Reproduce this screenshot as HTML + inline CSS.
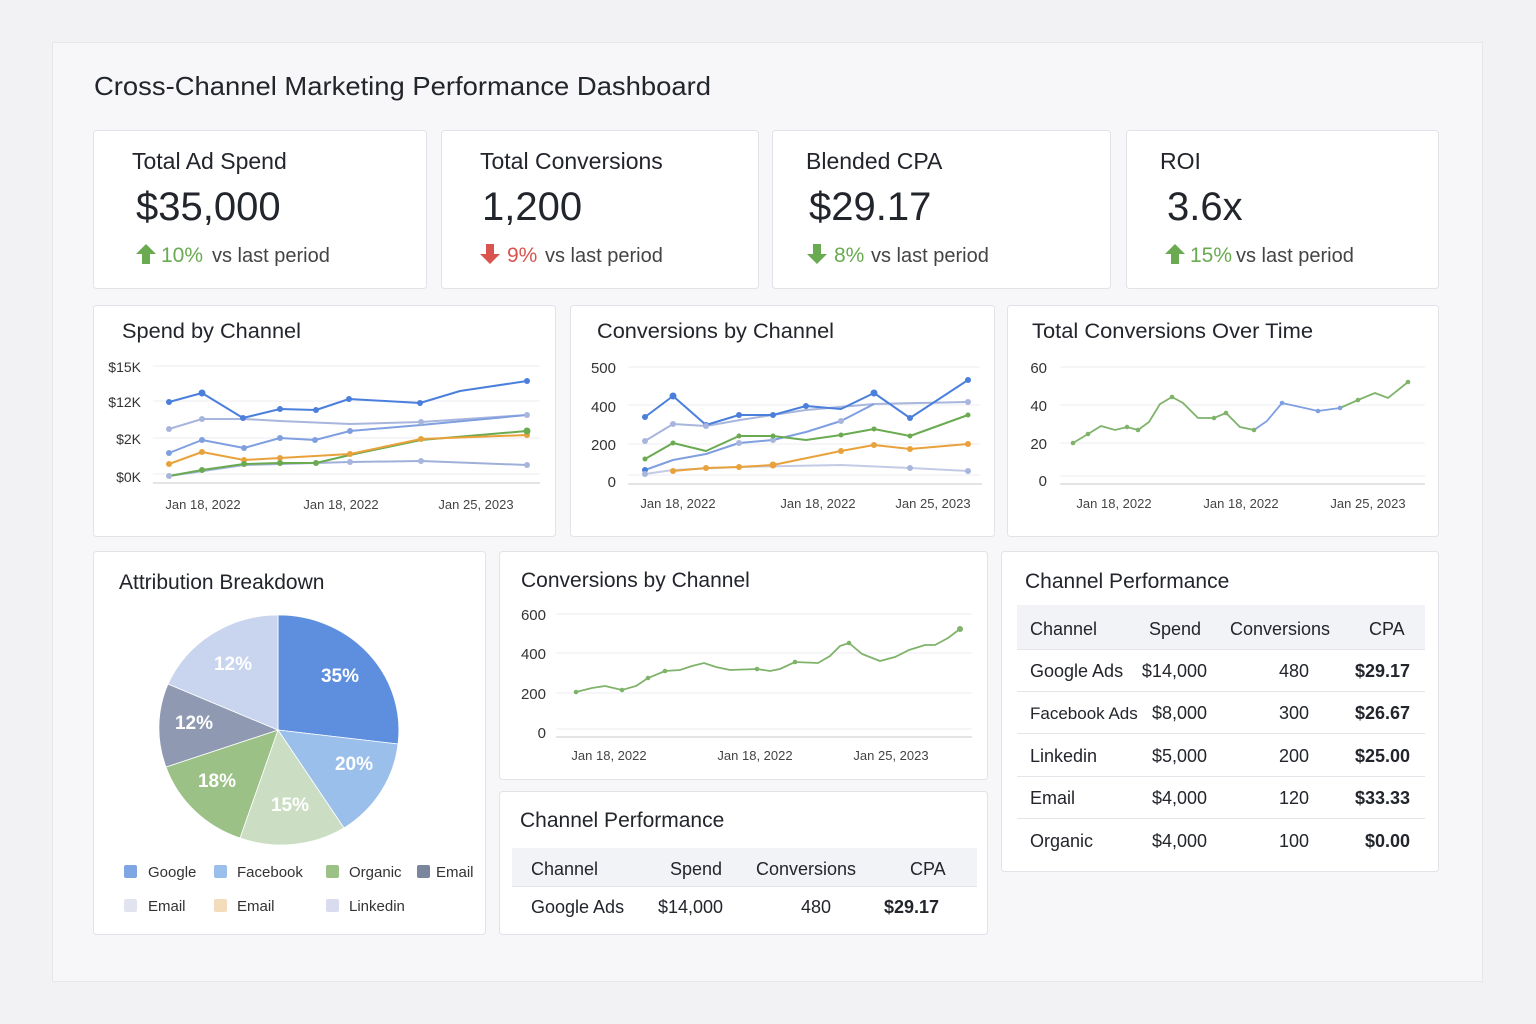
<!DOCTYPE html>
<html><head><meta charset="utf-8"><style>
html,body{margin:0;padding:0;background:#f2f2f5;}
svg{display:block;font-family:"Liberation Sans","DejaVu Sans",sans-serif;}
</style></head><body>
<svg width="1536" height="1024" viewBox="0 0 1536 1024" xmlns="http://www.w3.org/2000/svg">
<rect x="0" y="0" width="1536" height="1024" fill="#f2f2f5"/>
<rect x="52.5" y="42.5" width="1430" height="939" fill="#f7f7f9" stroke="#e6e6ea"/>
<text x="94" y="95" font-size="26" fill="#22252b" textLength="617" lengthAdjust="spacingAndGlyphs">Cross-Channel Marketing Performance Dashboard</text>
<g fill="#ffffff" stroke="#e2e3e8">
<rect x="93.5" y="130.5" width="333" height="158" rx="3"/>
<rect x="441.5" y="130.5" width="317" height="158" rx="3"/>
<rect x="772.5" y="130.5" width="338" height="158" rx="3"/>
<rect x="1126.5" y="130.5" width="312" height="158" rx="3"/>
<rect x="93.5" y="305.5" width="462" height="231" rx="3"/>
<rect x="570.5" y="305.5" width="424" height="231" rx="3"/>
<rect x="1007.5" y="305.5" width="431" height="231" rx="3"/>
<rect x="93.5" y="551.5" width="392" height="383" rx="3"/>
<rect x="499.5" y="551.5" width="488" height="228" rx="3"/>
<rect x="499.5" y="791.5" width="488" height="143" rx="3"/>
<rect x="1001.5" y="551.5" width="437" height="320" rx="3"/>
</g>
<!-- KPI -->
<g fill="#22252b">
<text x="132" y="169" font-size="23">Total Ad Spend</text>
<text x="136" y="220" font-size="40">$35,000</text>
<text x="480" y="169" font-size="23">Total Conversions</text>
<text x="482" y="220" font-size="40">1,200</text>
<text x="806" y="169" font-size="23">Blended CPA</text>
<text x="809" y="220" font-size="40">$29.17</text>
<text x="1160" y="169" font-size="23">ROI</text>
<text x="1167" y="220" font-size="40">3.6x</text>
</g>
<g font-size="21">
<path d="M146 244 l10 10 h-6 v10 h-8 v-10 h-6 z" fill="#6aaa50"/>
<text x="161" y="262" fill="#6aaa50">10%</text><text x="212" y="262" fill="#444" font-size="20">vs last period</text>
<path d="M490 264 l10 -10 h-6 v-10 h-8 v10 h-6 z" fill="#d9534f"/>
<text x="507" y="262" fill="#d9534f">9%</text><text x="545" y="262" fill="#444" font-size="20">vs last period</text>
<path d="M817 264 l10 -10 h-6 v-10 h-8 v10 h-6 z" fill="#6aaa50"/>
<text x="834" y="262" fill="#6aaa50">8%</text><text x="871" y="262" fill="#444" font-size="20">vs last period</text>
<path d="M1175 244 l10 10 h-6 v10 h-8 v-10 h-6 z" fill="#6aaa50"/>
<text x="1190" y="262" fill="#6aaa50">15%</text><text x="1236" y="262" fill="#444" font-size="20">vs last period</text>
</g>
<!-- chart titles -->
<g font-size="21" fill="#22252b">
<text x="122" y="338" textLength="179" lengthAdjust="spacingAndGlyphs">Spend by Channel</text>
<text x="597" y="338" textLength="237" lengthAdjust="spacingAndGlyphs">Conversions by Channel</text>
<text x="1032" y="338" textLength="281" lengthAdjust="spacingAndGlyphs">Total Conversions Over Time</text>
<text x="119" y="589">Attribution Breakdown</text>
<text x="521" y="587">Conversions by Channel</text>
<text x="520" y="827">Channel Performance</text>
<text x="1025" y="588">Channel Performance</text>
</g>
<!-- Spend chart -->
<g stroke="#ececf0"><line x1="153" y1="366" x2="540" y2="366"/><line x1="153" y1="401" x2="540" y2="401"/><line x1="153" y1="438" x2="540" y2="438"/><line x1="153" y1="474" x2="540" y2="474"/></g>
<line x1="153" y1="483" x2="540" y2="483" stroke="#c9c9cf"/>
<g font-size="14" fill="#333" text-anchor="end"><text x="141" y="372">$15K</text><text x="141" y="407">$12K</text><text x="141" y="444">$2K</text><text x="141" y="482">$0K</text></g>
<g font-size="13" fill="#444" text-anchor="middle"><text x="203" y="509">Jan 18, 2022</text><text x="341" y="509">Jan 18, 2022</text><text x="476" y="509">Jan 25, 2023</text></g>
<g fill="none" stroke-width="2" stroke-linejoin="round">
<polyline stroke="#a8b6dd" points="169,429 202,419 244,419 280,421 350,424 421,422 527,415"/>
<polyline stroke="#7f9fe0" points="169,453 202,440 244,448 280,438 315,440 350,431 421,425 527,415"/>
<polyline stroke="#9fb0d8" points="169,476 244,465 350,462 421,461 527,465"/>
<polyline stroke="#6aaa50" points="169,476 202,470 244,464 280,463 316,463 350,455 421,440 527,431"/>
<polyline stroke="#e9a23b" points="169,464 202,452 244,460 280,458 350,454 421,439 527,435"/>
<polyline stroke="#4a7fdc" points="169,402 202,393 243,418 280,409 316,410 349,399 420,403 460,391 527,381"/>
</g>
<g fill="#4a7fdc"><circle cx="169" cy="402" r="3"/><circle cx="202" cy="393" r="3.5"/><circle cx="243" cy="418" r="3"/><circle cx="280" cy="409" r="3"/><circle cx="316" cy="410" r="3"/><circle cx="349" cy="399" r="3"/><circle cx="420" cy="403" r="3"/><circle cx="527" cy="381" r="3"/></g>
<g fill="#a8b6dd"><circle cx="169" cy="429" r="3"/><circle cx="202" cy="419" r="3"/><circle cx="421" cy="422" r="3"/><circle cx="527" cy="415" r="3"/><circle cx="169" cy="476" r="3"/><circle cx="350" cy="462" r="3"/><circle cx="421" cy="461" r="3"/><circle cx="527" cy="465" r="3"/></g>
<g fill="#7f9fe0"><circle cx="169" cy="453" r="3"/><circle cx="202" cy="440" r="3"/><circle cx="244" cy="448" r="3"/><circle cx="280" cy="438" r="3"/><circle cx="315" cy="440" r="3"/><circle cx="350" cy="431" r="3"/></g>
<g fill="#e9a23b"><circle cx="169" cy="464" r="3"/><circle cx="202" cy="452" r="3"/><circle cx="244" cy="460" r="3"/><circle cx="280" cy="458" r="3"/><circle cx="350" cy="454" r="3"/><circle cx="421" cy="439" r="3"/><circle cx="527" cy="435" r="3"/></g>
<g fill="#6aaa50"><circle cx="202" cy="470" r="3"/><circle cx="244" cy="464" r="3"/><circle cx="280" cy="463" r="3"/><circle cx="316" cy="463" r="3"/><circle cx="527" cy="431" r="3.5"/></g>
<!-- Conversions by channel chart -->
<g stroke="#ececf0"><line x1="628" y1="367" x2="980" y2="367"/><line x1="628" y1="405" x2="980" y2="405"/><line x1="628" y1="444" x2="980" y2="444"/><line x1="628" y1="475" x2="980" y2="475"/></g>
<line x1="628" y1="484" x2="982" y2="484" stroke="#c9c9cf"/>
<g font-size="15" fill="#333" text-anchor="end"><text x="616" y="373">500</text><text x="616" y="412">400</text><text x="616" y="450">200</text><text x="616" y="487">0</text></g>
<g font-size="13" fill="#444" text-anchor="middle"><text x="678" y="508">Jan 18, 2022</text><text x="818" y="508">Jan 18, 2022</text><text x="933" y="508">Jan 25, 2023</text></g>
<g fill="none" stroke-width="2" stroke-linejoin="round">
<polyline stroke="#a8b6dd" points="645,441 673,424 706,426 740,420 806,410 874,404 968,402"/>
<polyline stroke="#c3cbe6" points="645,474 673,470 739,467 841,465 910,468 968,471"/>
<polyline stroke="#7f9fe0" points="645,470 673,460 706,454 739,443 773,440 806,432 841,421 874,404"/>
<polyline stroke="#6aaa50" points="645,459 673,443 706,451 739,436 773,436 806,440 841,435 874,429 910,436 968,415"/>
<polyline stroke="#e9a23b" points="673,471 706,468 739,467 773,465 841,451 874,445 910,449 968,444"/>
<polyline stroke="#4a7fdc" points="645,417 673,396 706,425 739,415 773,415 806,406 841,409 874,393 910,418 968,380"/>
</g>
<g fill="#4a7fdc"><circle cx="645" cy="417" r="3"/><circle cx="673" cy="396" r="3.5"/><circle cx="706" cy="425" r="3"/><circle cx="739" cy="415" r="3"/><circle cx="773" cy="415" r="3"/><circle cx="806" cy="406" r="3"/><circle cx="874" cy="393" r="3.5"/><circle cx="910" cy="418" r="3"/><circle cx="968" cy="380" r="3"/><circle cx="645" cy="470" r="3"/></g>
<g fill="#a8b6dd"><circle cx="645" cy="441" r="3"/><circle cx="673" cy="424" r="3"/><circle cx="706" cy="426" r="3"/><circle cx="739" cy="443" r="3"/><circle cx="773" cy="440" r="3"/><circle cx="841" cy="421" r="3"/><circle cx="968" cy="402" r="3"/><circle cx="645" cy="474" r="3"/><circle cx="910" cy="468" r="3"/><circle cx="968" cy="471" r="3"/></g>
<g fill="#6aaa50"><circle cx="645" cy="459" r="2.5"/><circle cx="673" cy="443" r="2.5"/><circle cx="739" cy="436" r="2.5"/><circle cx="773" cy="436" r="2.5"/><circle cx="841" cy="435" r="2.5"/><circle cx="874" cy="429" r="2.5"/><circle cx="910" cy="436" r="2.5"/><circle cx="968" cy="415" r="2.5"/></g>
<g fill="#e9a23b"><circle cx="673" cy="471" r="3"/><circle cx="706" cy="468" r="3"/><circle cx="739" cy="467" r="3"/><circle cx="773" cy="465" r="3.5"/><circle cx="841" cy="451" r="3"/><circle cx="874" cy="445" r="3"/><circle cx="910" cy="449" r="3"/><circle cx="968" cy="444" r="3"/></g>
<!-- Total conversions over time -->
<g stroke="#ececf0"><line x1="1060" y1="367" x2="1425" y2="367"/><line x1="1060" y1="405" x2="1425" y2="405"/><line x1="1060" y1="443" x2="1425" y2="443"/><line x1="1060" y1="476" x2="1425" y2="476"/></g>
<line x1="1060" y1="484" x2="1425" y2="484" stroke="#c9c9cf"/>
<g font-size="15" fill="#333" text-anchor="end"><text x="1047" y="373">60</text><text x="1047" y="411">40</text><text x="1047" y="449">20</text><text x="1047" y="486">0</text></g>
<g font-size="13" fill="#444" text-anchor="middle"><text x="1114" y="508">Jan 18, 2022</text><text x="1241" y="508">Jan 18, 2022</text><text x="1368" y="508">Jan 25, 2023</text></g>
<polyline fill="none" stroke="#7fb36a" stroke-width="1.8" points="1073,443 1088,434 1101,426 1115,430 1127,427 1138,430 1149,422 1160,404 1172,397 1183,403 1198,418 1214,418 1226,413 1240,427 1254,430"/>
<polyline fill="none" stroke="#7f9fe0" stroke-width="1.8" points="1254,430 1267,421 1282,403 1318,411 1340,408"/>
<polyline fill="none" stroke="#7fb36a" stroke-width="1.8" points="1340,408 1358,400 1375,393 1388,398 1408,382"/>
<g fill="#7fb36a"><circle cx="1073" cy="443" r="2.3"/><circle cx="1088" cy="434" r="2.3"/><circle cx="1127" cy="427" r="2.3"/><circle cx="1138" cy="430" r="2.3"/><circle cx="1172" cy="397" r="2.3"/><circle cx="1214" cy="418" r="2.3"/><circle cx="1226" cy="413" r="2.3"/><circle cx="1254" cy="430" r="2.3"/><circle cx="1358" cy="400" r="2.3"/><circle cx="1408" cy="382" r="2.3"/></g>
<g fill="#7f9fe0"><circle cx="1282" cy="403" r="2.3"/><circle cx="1318" cy="411" r="2.3"/><circle cx="1340" cy="408" r="2.3"/></g>
<!-- Lower conversions chart -->
<g stroke="#ececf0"><line x1="556" y1="614" x2="972" y2="614"/><line x1="556" y1="653" x2="972" y2="653"/><line x1="556" y1="693" x2="972" y2="693"/><line x1="556" y1="729" x2="972" y2="729"/></g>
<line x1="556" y1="737" x2="972" y2="737" stroke="#c9c9cf"/>
<g font-size="15" fill="#333" text-anchor="end"><text x="546" y="620">600</text><text x="546" y="659">400</text><text x="546" y="699">200</text><text x="546" y="738">0</text></g>
<g font-size="13" fill="#444" text-anchor="middle"><text x="609" y="760">Jan 18, 2022</text><text x="755" y="760">Jan 18, 2022</text><text x="891" y="760">Jan 25, 2023</text></g>
<polyline fill="none" stroke="#7fb36a" stroke-width="1.8" points="576,692 592,688 605,686 622,690 636,686 648,678 665,671 680,670 692,666 704,663 716,667 730,670 757,669 770,671 780,669 795,662 818,663 830,656 840,646 849,643 862,654 880,661 895,657 909,650 925,645 935,645 948,638 960,629"/>
<g fill="#7fb36a"><circle cx="576" cy="692" r="2.3"/><circle cx="622" cy="690" r="2.3"/><circle cx="648" cy="678" r="2.3"/><circle cx="665" cy="671" r="2.3"/><circle cx="757" cy="669" r="2.3"/><circle cx="795" cy="662" r="2.3"/><circle cx="849" cy="643" r="2.3"/><circle cx="960" cy="629" r="3"/></g>
<!-- Pie -->
<g stroke="#ffffff" stroke-width="0.8">
<path d="M278 730 L278 615 A120 115 0 0 1 398 744 Z" fill="#5e8fdf"/>
<path d="M278 730 L398 744 A120 115 0 0 1 344 828 Z" fill="#9bbfeb"/>
<path d="M278 730 L344 828 A120 115 0 0 1 240 838 Z" fill="#cbdec4"/>
<path d="M278 730 L240 838 A120 115 0 0 1 166 767 Z" fill="#9cc186"/>
<path d="M278 730 L166 767 A120 115 0 0 1 168 684 Z" fill="#8f9ab2"/>
<path d="M278 730 L168 684 A120 115 0 0 1 278 615 Z" fill="#c9d4ee"/>
</g>
<g font-size="19" fill="#ffffff" font-weight="bold" text-anchor="middle">
<text x="340" y="682">35%</text><text x="354" y="770">20%</text><text x="290" y="811">15%</text><text x="217" y="787">18%</text><text x="194" y="729">12%</text><text x="233" y="670">12%</text>
</g>
<g font-size="15" fill="#333">
<rect x="124" y="865" width="13" height="13" rx="2" fill="#7fa6e3"/><text x="148" y="877">Google</text>
<rect x="214" y="865" width="13" height="13" rx="2" fill="#9bbfeb"/><text x="237" y="877">Facebook</text>
<rect x="326" y="865" width="13" height="13" rx="2" fill="#9cc186"/><text x="349" y="877">Organic</text>
<rect x="417" y="865" width="13" height="13" rx="2" fill="#7a869e"/><text x="436" y="877">Email</text>
<rect x="124" y="899" width="13" height="13" rx="2" fill="#e1e3ef"/><text x="148" y="911">Email</text>
<rect x="214" y="899" width="13" height="13" rx="2" fill="#f2dcbb"/><text x="237" y="911">Email</text>
<rect x="326" y="899" width="13" height="13" rx="2" fill="#d9dbef"/><text x="349" y="911">Linkedin</text>
</g>
<!-- small table -->
<rect x="512" y="848" width="465" height="38" fill="#f2f3f6"/>
<line x1="512" y1="886.5" x2="977" y2="886.5" stroke="#e2e3e8"/>
<g font-size="18" fill="#22252b">
<text x="531" y="875">Channel</text><text x="670" y="875">Spend</text><text x="756" y="875">Conversions</text><text x="910" y="875">CPA</text>
<text x="531" y="913">Google Ads</text><text x="658" y="913">$14,000</text><text x="801" y="913">480</text><text x="884" y="913" font-weight="bold">$29.17</text>
</g>
<!-- right table -->
<rect x="1017" y="605" width="408" height="44" fill="#f2f3f6"/>
<g stroke="#e4e5ea"><line x1="1017" y1="649.5" x2="1425" y2="649.5"/><line x1="1017" y1="691.5" x2="1425" y2="691.5"/><line x1="1017" y1="733.5" x2="1425" y2="733.5"/><line x1="1017" y1="776.5" x2="1425" y2="776.5"/><line x1="1017" y1="818.5" x2="1425" y2="818.5"/></g>
<g font-size="18" fill="#22252b">
<text x="1030" y="635">Channel</text><text x="1149" y="635">Spend</text><text x="1230" y="635">Conversions</text><text x="1369" y="635">CPA</text>
</g>
<g font-size="18" fill="#22252b">
<text x="1030" y="677">Google Ads</text><text x="1030" y="719" font-size="17">Facebook Ads</text><text x="1030" y="762">Linkedin</text><text x="1030" y="804">Email</text><text x="1030" y="847">Organic</text>
</g>
<g font-size="18" fill="#22252b" text-anchor="end">
<text x="1207" y="677">$14,000</text><text x="1207" y="719">$8,000</text><text x="1207" y="762">$5,000</text><text x="1207" y="804">$4,000</text><text x="1207" y="847">$4,000</text>
<text x="1309" y="677">480</text><text x="1309" y="719">300</text><text x="1309" y="762">200</text><text x="1309" y="804">120</text><text x="1309" y="847">100</text>
<g font-weight="bold"><text x="1410" y="677">$29.17</text><text x="1410" y="719">$26.67</text><text x="1410" y="762">$25.00</text><text x="1410" y="804">$33.33</text><text x="1410" y="847">$0.00</text></g>
</g>
</svg>
</body></html>
